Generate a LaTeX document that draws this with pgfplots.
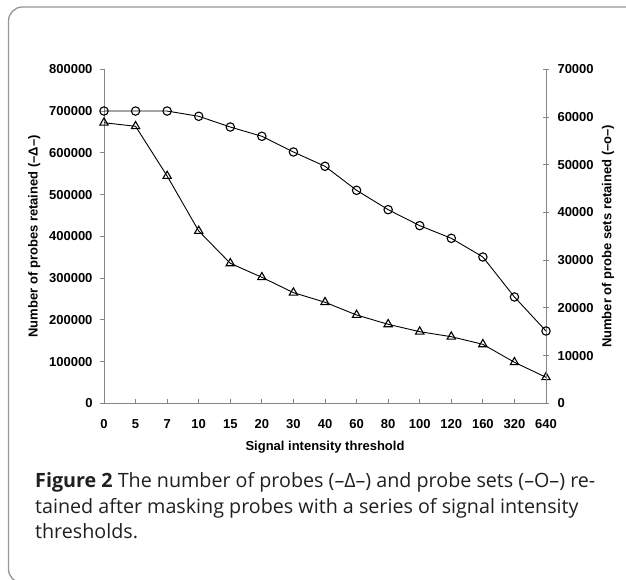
\documentclass[border=0pt]{standalone}
\usepackage{fontspec}
\setmainfont{Liberation Sans}
\newfontfamily\capfont{Open Sans}
\usepackage{pgfplots}
\pgfplotsset{compat=1.18}
\definecolor{axgray}{RGB}{134,134,134}
\definecolor{framegray}{RGB}{150,150,150}
\definecolor{capblack}{RGB}{35,31,32}
\pgfplotstableread{
x probes sets
0 672000 61250
1 663500 61250
2 544400 61250
3 412700 60150
4 335300 57900
5 301800 55960
6 265000 52670
7 242000 49670
8 211500 44640
9 189200 40580
10 171500 37230
11 159500 34580
12 141300 30660
13 98200 22280
14 62300 15150
}\datatable
\begin{document}
\begin{tikzpicture}[x=1bp,y=1bp]
\path[use as bounding box] (0,0) rectangle (626,580);
\draw[framegray, line width=1.3bp, rounded corners=14bp] (640,573) -- (8.5,573) -- (8.5,-3) -- (40,-3);
\pgfplotsset{
  mybase/.style={
    at={(104bp,176.7bp)}, anchor=south west, scale only axis,
    width=442bp, height=334bp,
    xmin=0, xmax=14,
    axis line style={draw=axgray, line width=0.9bp},
    tick style={draw=axgray, line width=0.9bp},
    ticklabel style={font=\bfseries\fontsize{13bp}{15bp}\selectfont, text=black},
    label style={font=\bfseries\fontsize{13bp}{15bp}\selectfont},
    scaled y ticks=false,
    /pgf/number format/.cd, fixed, set thousands separator={}, assume math mode=true,
  },
}
\begin{axis}[mybase,
  ymin=0, ymax=800000,
  axis x line*=bottom, axis y line*=left,
  xtick={0,...,14},
  xticklabels={0,5,7,10,15,20,30,40,60,80,100,120,160,320,640},
  ytick={0,100000,...,800000},
  tick align=inside, major tick length=4bp,
  ytick style={xshift=-4bp},
  xticklabel shift=13bp,
  yticklabel shift=8bp,
  xlabel={Signal intensity threshold},
  ylabel={Number of probes retained (–Δ–)},
  xlabel style={at={(axis description cs:0.5,-0.13)}, anchor=center},
  ylabel style={at={(axis description cs:-0.158,0.5)}, anchor=center},
]
\addplot[black, line width=0.9bp, mark=triangle, mark size=4.8bp, mark options={line width=1.1bp, solid}] table[x=x, y=probes] {\datatable};
\end{axis}
\begin{axis}[mybase,
  ymin=0, ymax=70000,
  axis x line=none, axis y line*=right,
  ytick={0,10000,...,70000},
  tick align=center, major tick length=6bp,
  yticklabel shift=5bp,
  ylabel={Number of probe sets retained (–o–)},
  ylabel style={at={(axis description cs:1.140,0.5)}, anchor=center},
]
\addplot[black, line width=0.9bp, mark=o, mark size=4.2bp, mark options={line width=1.1bp, solid}] table[x=x, y=sets] {\datatable};
\end{axis}
\begin{scope}[every node/.style={anchor=base west, inner sep=0pt, text=capblack, font=\capfont\fontsize{19.7bp}{25bp}\selectfont}]
\node at (35,92) {\textbf{Figure 2} The number of probes (–Δ–) and probe sets (–O–) re-};
\node at (35,66.5) {tained after masking probes with a series of signal intensity};
\node at (35,41) {thresholds.};
\end{scope}
\end{tikzpicture}
\end{document}
